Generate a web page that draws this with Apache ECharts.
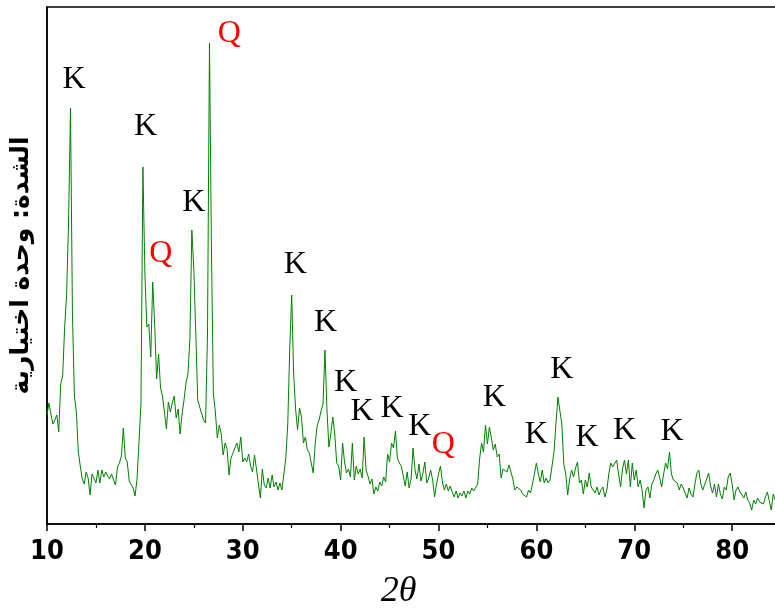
<!DOCTYPE html>
<html>
<head>
<meta charset="utf-8">
<script src="https://cdn.jsdelivr.net/npm/echarts@6/dist/echarts.min.js"></script>
<style>
  html, body { margin: 0; padding: 0; background: #ffffff; }
  #chart { width: 775px; height: 609px; }
</style>
</head>
<body>
<div id="chart"></div>
<script>
// Diffraction scan: 2θ from 10° in 0.2° steps, intensity in arbitrary units.
const START_ANGLE = 10.0;
const ANGLE_STEP = 0.2;
const intensity = [
  109, 121, 110, 100, 104, 109,  92, 140, 148, 196,   // 10.0 – 11.8
  229, 300, 416, 210, 128, 112,  72,  58,  45,  40,   // 12.0 – 13.8
   52,  46,  29,  50,  52,  41,  54,  41,  54,  47,   // 14.0 – 15.8
   52,  48,  45,  50,  44,  39,  57,  61,  68,  96,   // 16.0 – 17.8
   66,  62,  43,  45,  36,  28,  45,  44, 120, 357,   // 18.0 – 19.8
  251, 197, 200, 167, 242, 200, 145, 170, 136, 128,   // 20.0 – 21.8
  126,  95, 122, 112, 121, 128, 106, 115,  90, 110,   // 22.0 – 23.8
  124, 141, 150, 185, 294, 255, 191, 124, 117, 115,   // 24.0 – 25.8
  104, 101, 190, 481, 276, 130, 112,  86,  99,  90,   // 26.0 – 27.8
   69,  81,  75,  49,  66,  71,  72,  81,  72,  87,   // 28.0 – 29.8
   62,  66,  62,  70,  58,  52,  69,  55,  40,  26,   // 30.0 – 31.8
   55,  39,  36,  46,  36,  49,  37,  42,  34,  41,   // 32.0 – 33.8
   34,  32,  66, 100, 175, 229, 150, 115,  94, 116,   // 34.0 – 35.8
  107,  81,  87,  74,  71,  61,  51,  80,  98, 104,   // 36.0 – 37.8
  113, 120, 174, 115,  77,  90, 107,  90,  61,  58,   // 38.0 – 39.8
   44,  81,  62,  51,  55,  47,  81,  44,  58,  50,   // 40.0 – 41.8
   55,  46,  87,  54,  48,  40,  45,  30,  37,  33,   // 42.0 – 43.8
   42,  38,  47,  42,  70,  62,  81,  76,  93,  66,   // 44.0 – 45.8
   61,  58,  58,  38,  52,  36,  45,  76,  54,  45,   // 46.0 – 47.8
   60,  43,  50,  62,  41,  46,  54,  44,  27,  40,   // 48.0 – 49.8
   50,  58,  42,  34,  40,  33,  38,  32,  27,  33,   // 50.0 – 51.8
   26,  31,  28,  33,  26,  33,  30,  36,  33,  31,   // 52.0 – 53.8
   40,  65,  81,  72,  99,  80,  97,  86,  74,  80,   // 54.0 – 55.8
   67,  70,  46,  55,  56,  52,  59,  57,  45,  34,   // 56.0 – 57.8
   37,  35,  34,  30,  31,  27,  34,  31,  40,  50,   // 58.0 – 59.8
   61,  50,  42,  54,  41,  46,  41,  44,  46,  72,   // 60.0 – 61.8
  100, 127, 129, 100,  60,  50,  29,  45,  54,  47,   // 62.0 – 63.8
   56,  62,  41,  44,  30,  44,  37,  51,  37,  34,   // 64.0 – 65.8
   31,  37,  29,  34,  37,  27,  34,  50,  61,  57,   // 66.0 – 67.8
   58,  64,  50,  37,  55,  64,  50,  64,  37,  61,   // 68.0 – 69.8
   44,  54,  37,  44,  34,  16,  34,  37,  26,  40,   // 70.0 – 71.8
   44,  50,  54,  46,  37,  50,  61,  55,  72,  50,   // 72.0 – 73.8
   44,  46,  41,  34,  40,  36,  31,  26,  36,  30,   // 74.0 – 75.8
   27,  40,  51,  54,  40,  34,  36,  45,  51,  38,   // 76.0 – 77.8
   31,  40,  27,  40,  30,  25,  37,  34,  47,  51,   // 78.0 – 79.8
   40,  24,  34,  37,  32,  30,  26,  32,  24,  21,   // 80.0 – 81.8
   14,  24,  20,  26,  22,  24,  20,  27,  32,  34,   // 82.0 – 83.8
   14,  30,  24                                       // 84.0 – 84.4
];

// Phase identification labels (K = kaolinite, Q = quartz), placed in data space.
const labelAngles  = [12.76, 20.08, 21.62, 25.0, 28.63, 35.38, 38.45, 40.5, 42.19, 45.26, 48.08, 50.48, 55.7, 60.0, 62.61, 65.17, 69.0, 73.87];
const labelHeights = [444,   397,   270,   321,  490,   259,   201,   141,  112,   115,   97,    79,    126,  89,   154,   86,    93,   92];
const labelPhases  = ['K',   'K',   'Q',   'K',  'Q',   'K',   'K',   'K',  'K',   'K',   'K',   'Q',   'K',  'K',  'K',   'K',   'K',  'K'];
const phaseColors  = { K: '#000000', Q: '#ff0000' };

const xMin = 10, xMax = 90, xStep = 10;
const yMin = 0, yMax = 517;

const scan = intensity.map((v, i) => [+(START_ANGLE + i * ANGLE_STEP).toFixed(1), v]);
const phaseMarks = labelAngles.map((a, i) => ({
  value: [a, labelHeights[i]],
  name: labelPhases[i],
  label: { color: phaseColors[labelPhases[i]] }
}));

const chart = echarts.init(document.getElementById('chart'), null, { renderer: 'canvas' });
chart.setOption({
  animation: false,
  backgroundColor: '#ffffff',
  grid: {
    // the frame runs past the right edge of the canvas, so 85° and 90° fall outside it
    left: 47, right: -55, top: 7, bottom: 85,
    outerBoundsMode: 'none',
    containLabel: false,
    show: true, borderColor: '#000000', borderWidth: 1.5, backgroundColor: 'transparent'
  },
  xAxis: {
    type: 'value',
    min: xMin, max: xMax, interval: xStep,
    name: '2θ',
    nameLocation: 'middle',
    nameGap: 50,
    nameTextStyle: {
      fontFamily: "'Liberation Serif', 'DejaVu Serif', serif",
      fontStyle: 'italic', fontSize: 36, color: '#000000',
      padding: [0, 80, 0, 0]
    },
    axisLine: { show: true, onZero: false, lineStyle: { color: '#000000', width: 1.5 } },
    axisTick: { show: true, inside: false, length: 7, lineStyle: { color: '#000000', width: 1.5 } },
    minorTick: { show: true, splitNumber: 2, length: 4, lineStyle: { color: '#000000', width: 1.2 } },
    axisLabel: {
      show: true, margin: 14, showMaxLabel: false,
      fontFamily: "'Liberation Sans Narrow', 'DejaVu Sans Condensed', 'Liberation Sans', Arial, sans-serif",
      fontWeight: 'bold', fontSize: 27, color: '#000000'
    },
    splitLine: { show: false },
    minorSplitLine: { show: false }
  },
  yAxis: {
    type: 'value',
    min: yMin, max: yMax,
    name: 'الشدة: وحدة اختيارية',
    nameLocation: 'middle',
    nameRotate: 90,
    nameGap: 13,
    nameTextStyle: {
      fontFamily: "'DejaVu Sans', 'Noto Sans', sans-serif",
      fontWeight: 'bold', fontSize: 25, color: '#000000'
    },
    axisLine: { show: true, onZero: false, lineStyle: { color: '#000000', width: 1.5 } },
    axisTick: { show: false },
    axisLabel: { show: false },
    splitLine: { show: false }
  },
  series: [
    {
      type: 'line',
      data: scan,
      showSymbol: false,
      symbol: 'none',
      silent: true,
      clip: true,
      lineStyle: { color: '#008000', width: 1 },
      z: 2
    },
    {
      type: 'scatter',
      data: phaseMarks,
      symbol: 'circle',
      symbolSize: 1,
      silent: true,
      itemStyle: { color: 'rgba(0,0,0,0)', opacity: 1 },
      label: {
        show: true,
        position: 'inside',
        formatter: '{b}',
        fontFamily: "'Liberation Serif', 'Times New Roman', serif",
        fontSize: 32
      },
      z: 3
    }
  ]
});
</script>
</body>
</html>
